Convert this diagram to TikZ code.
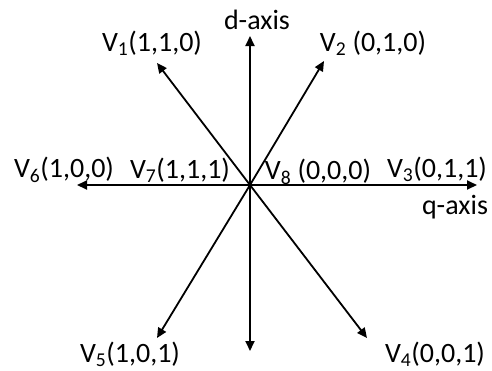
\documentclass[tikz,border=0pt]{standalone}
\usepackage{fontspec}
\setmainfont{Carlito}
\usetikzlibrary{arrows.meta}
\begin{document}
\begin{tikzpicture}[x=1pt, y=-1pt,
    vec/.style={-{Triangle[length=10pt,width=9pt]}, line width=1.8pt},
    vlabel/.style={font=\fontsize{28}{30}\selectfont, inner sep=0pt}
]
    \useasboundingbox (0,0) rectangle (492,370);

    % Origin and arrow tips
    \coordinate (o) at (250,185);
    \coordinate (dtip) at (250,36);
    \coordinate (dbot) at (250,351);
    \coordinate (qtip) at (477,185);
    \coordinate (v6tip) at (77,185);
    \coordinate (v1tip) at (157,63);
    \coordinate (v2tip) at (324,61);
    \coordinate (v5tip) at (157,338);
    \coordinate (v4tip) at (367,338);

    % Vectors
    \draw[vec] (o) -- (dtip);
    \draw[vec] (o) -- (dbot);
    \draw[vec] (o) -- (qtip);
    \draw[vec] (o) -- (v6tip);
    \draw[vec] (o) -- (v1tip);
    \draw[vec] (o) -- (v2tip);
    \draw[vec] (o) -- (v5tip);
    \draw[vec] (o) -- (v4tip);

    % Labels
    \node[vlabel] (daxis) at (257,20) {d-axis};
    \node[vlabel] (qaxis) at (455,207) {q-axis};
    \node[vlabel] (v1) at (152,43) {V\textsubscript{1}(1,1,0)};
    \node[vlabel] (v2) at (373,43) {V\textsubscript{2} (0,1,0)};
    \node[vlabel] (v3) at (437,169) {V\textsubscript{3}(0,1,1)};
    \node[vlabel] (v4) at (435,354) {V\textsubscript{4}(0,0,1)};
    \node[vlabel] (v5) at (130,354) {V\textsubscript{5}(1,0,1)};
    \node[vlabel] (v6) at (64,170) {V\textsubscript{6}(1,0,0)};
    \node[vlabel] (v7) at (180,170) {V\textsubscript{7}(1,1,1)};
    \node[vlabel] (v8) at (318,172) {V\textsubscript{8} (0,0,0)};

\end{tikzpicture}
\end{document}
